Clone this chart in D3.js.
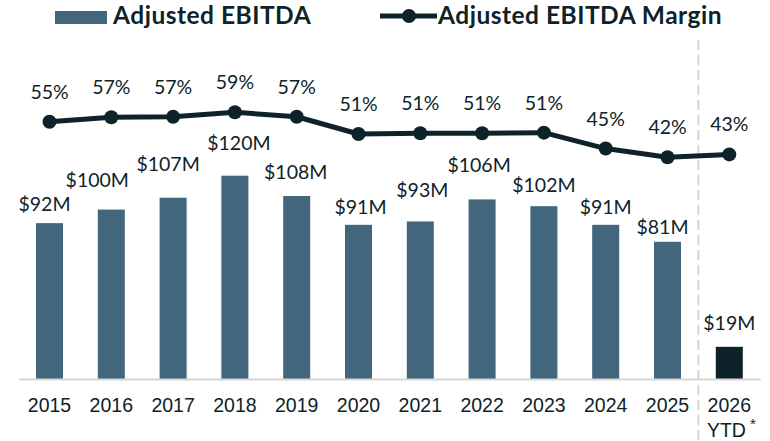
<!DOCTYPE html>
<html>
<head>
<meta charset="utf-8">
<script src="https://cdn.jsdelivr.net/npm/d3@7"></script>
<style>
  html, body { margin: 0; padding: 0; background: #fff; }
  svg { display: block; font-family: Lato, "Open Sans", sans-serif; }
</style>
</head>
<body>
<svg id="chart" width="770" height="441"></svg>
<script>
// data
var years = ['2015', '2016', '2017', '2018', '2019', '2020', '2021', '2022', '2023', '2024', '2025', '2026'];
var ebitda = [92, 100, 107, 120, 108, 91, 93, 106, 102, 91, 81, 19];   // $M
var margin = [55.4, 57.1, 57.3, 59, 57.3, 50.8, 51.1, 51.1, 51.3, 45.3, 42, 43.1]; // %
var ytdYear = '2026';

// hand nudges of the value labels (px): gap above bar top, horizontal shift
var labelGap = [12, 23, 27, 26, 17, 11, 24, 27, 14, 11, 8, 17];
var labelShift = [-5, -14, -5, 4, -1, 2, 2, -3, 0, 0, -5, 0];

var ink = '#0d2329',
  barColor = '#42667b',
  grey = '#d6d6d6';

var svg = d3.select('#chart');

// scales
var x = d3.scaleBand()
  .domain(years)
  .range([18.6, 760.2])
  .paddingInner(0.563)
  .paddingOuter(0.2815);

var y = d3.scaleLinear().domain([0, 120]).range([379, 175.7]);
var y2 = d3.scaleLinear().domain([40, 60]).range([162.6, 109.6]);

var cx = function (d) { return x(d) + x.bandwidth() / 2; };

// dashed separator before the YTD column
var sepX = (x('2025') + x.bandwidth() + x(ytdYear)) / 2;
svg.append('line')
  .attr('x1', sepX).attr('x2', sepX)
  .attr('y1', 40).attr('y2', 441)
  .attr('stroke', grey)
  .attr('stroke-width', 2)
  .attr('stroke-dasharray', '10,5');

// bars
svg.append('g').selectAll('rect')
  .data(years)
  .join('rect')
  .attr('x', function (d) { return x(d); })
  .attr('width', x.bandwidth())
  .attr('y', function (d, i) { return y(ebitda[i]); })
  .attr('height', function (d, i) { return y(0) - y(ebitda[i]); })
  .attr('fill', function (d) { return d === ytdYear ? ink : barColor; });

// bar labels
svg.append('g').selectAll('text')
  .data(years)
  .join('text')
  .attr('x', function (d, i) { return cx(d) + labelShift[i]; })
  .attr('y', function (d, i) { return y(ebitda[i]) - labelGap[i]; })
  .attr('text-anchor', 'middle')
  .attr('font-size', 19.5)
  .attr('fill', ink)
  .text(function (d, i) { return '$' + ebitda[i] + 'M'; });

// x axis
var axis = svg.append('g')
  .attr('transform', 'translate(0,' + y(0) + ')')
  .call(d3.axisBottom(x).tickSize(0).tickSizeOuter(0).tickPadding(0));
axis.select('.domain').attr('stroke', grey).attr('stroke-width', 2);
axis.selectAll('.tick text').remove();
axis.selectAll('.tick').append('text')
  .attr('y', 33)
  .attr('text-anchor', 'middle')
  .attr('font-size', 19.5)
  .attr('fill', ink)
  .text(function (d) { return d; });

var ytdTick = axis.selectAll('.tick').filter(function (d) { return d === ytdYear; });
var ytd = ytdTick.append('text')
  .attr('y', 58)
  .attr('x', 2)
  .attr('text-anchor', 'middle')
  .attr('font-size', 19.5)
  .attr('fill', ink);
ytd.append('tspan').text('YTD');
ytd.append('tspan').attr('dx', 4).attr('dy', -8).attr('font-size', 15).text('*');

// margin line
var line = d3.line()
  .x(function (d) { return cx(d); })
  .y(function (d, i) { return y2(margin[i]); });

svg.append('path')
  .datum(years)
  .attr('d', line)
  .attr('fill', 'none')
  .attr('stroke', ink)
  .attr('stroke-width', 5)
  .attr('stroke-linejoin', 'round');

svg.append('g').selectAll('circle')
  .data(years)
  .join('circle')
  .attr('cx', cx)
  .attr('cy', function (d, i) { return y2(margin[i]); })
  .attr('r', 7)
  .attr('fill', ink);

svg.append('g').selectAll('text')
  .data(years)
  .join('text')
  .attr('x', cx)
  .attr('y', function (d, i) { return y2(margin[i]) - 23; })
  .attr('text-anchor', 'middle')
  .attr('font-size', 19.5)
  .attr('fill', ink)
  .text(function (d, i) { return Math.round(margin[i]) + '%'; });

// legend
var legend = svg.append('g');
legend.append('rect')
  .attr('x', 55).attr('y', 11)
  .attr('width', 52).attr('height', 13)
  .attr('fill', barColor);
legend.append('text')
  .attr('x', 113).attr('y', 24)
  .attr('font-size', 24.5).attr('font-weight', 700)
  .attr('letter-spacing', 0.5)
  .attr('fill', ink)
  .text('Adjusted EBITDA');

legend.append('line')
  .attr('x1', 380).attr('x2', 437)
  .attr('y1', 16).attr('y2', 16)
  .attr('stroke', ink).attr('stroke-width', 5);
legend.append('circle')
  .attr('cx', 409).attr('cy', 16).attr('r', 7)
  .attr('fill', ink);
legend.append('text')
  .attr('x', 438).attr('y', 24)
  .attr('font-size', 24.5).attr('font-weight', 700)
  .attr('letter-spacing', 0.5)
  .attr('fill', ink)
  .text('Adjusted EBITDA Margin');
</script>
</body>
</html>
